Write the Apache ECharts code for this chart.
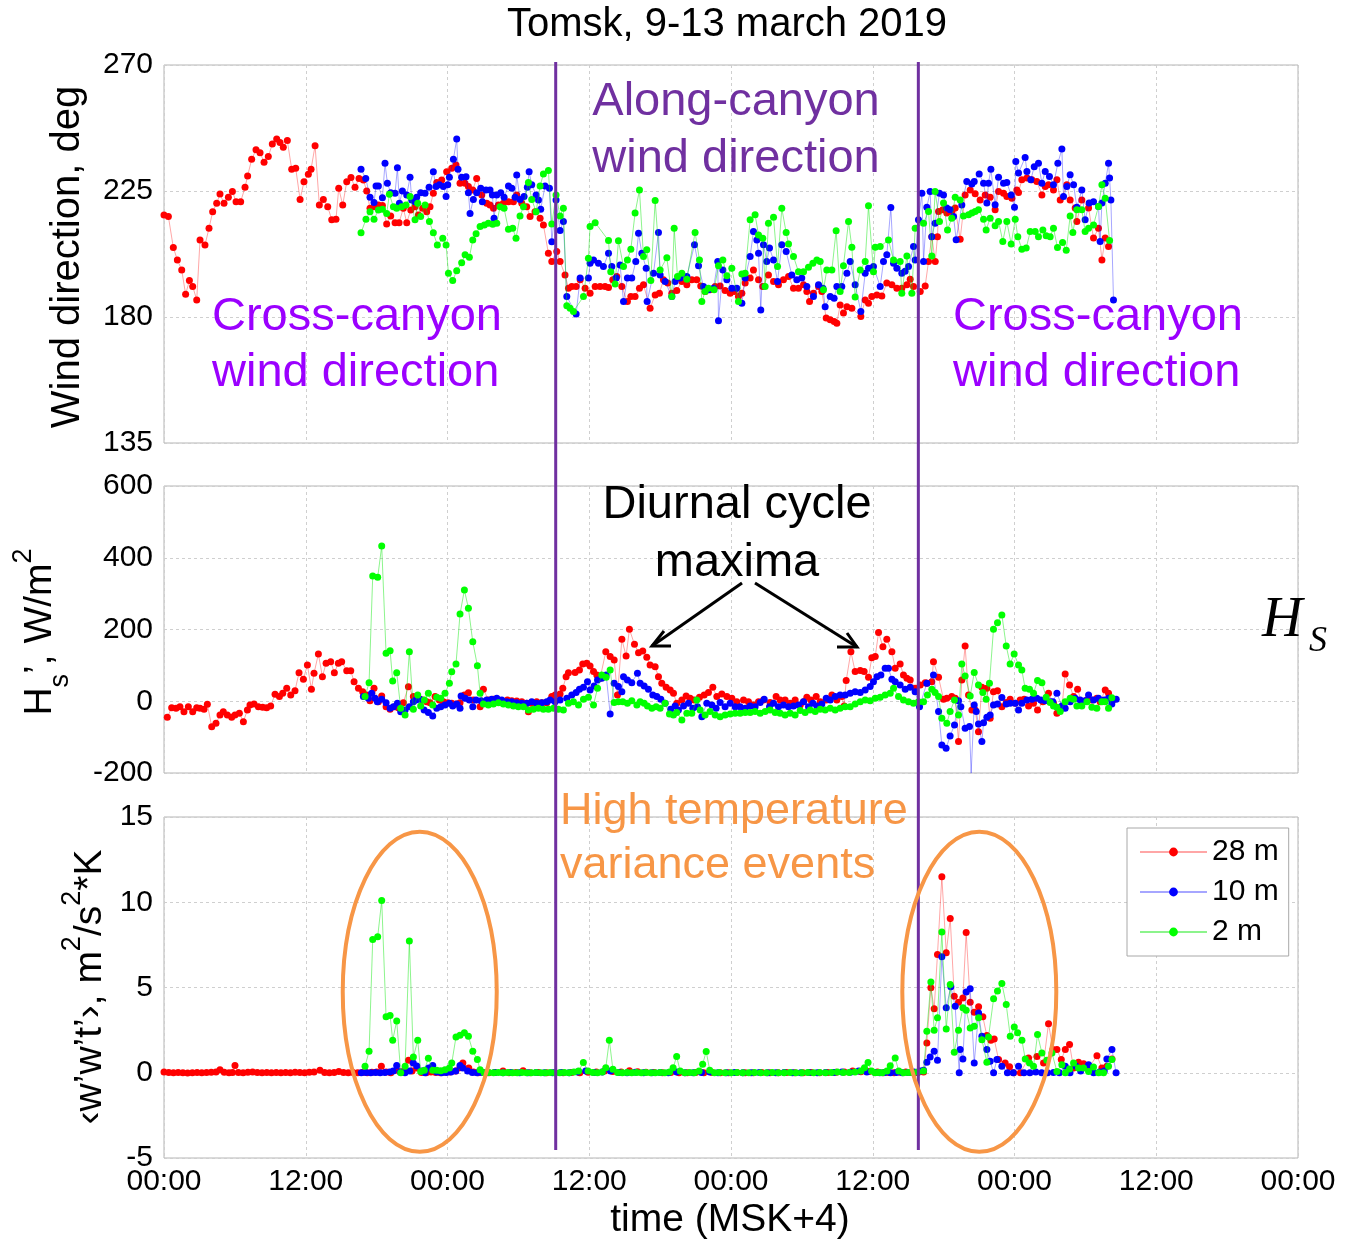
<!DOCTYPE html>
<html><head><meta charset="utf-8">
<script src="https://cdn.jsdelivr.net/npm/echarts@6/dist/echarts.min.js"></script>
<style>html,body{margin:0;padding:0;background:#fff}#c{width:1345px;height:1241px}</style>
</head><body><div id="c"></div>
<script>
const FONT = '"Liberation Sans", Arial, sans-serif';
const xTickLabels = ['00:00', '12:00'];
const seriesNames = ['28 m', '10 m', '2 m'];
const vLines = [33.16, 63.86];
const events = [[21.65, 4.75], [69.02, 4.75]];

// ---- Wind direction (deg) ----
const dir28 = [[0,216.4],[0.37,215.9],[0.79,204.8],[1.13,200.4],[1.5,196.8],[1.83,188.1],[2.15,193],[2.43,190.9],[2.77,186.1],[3.05,207.5],[3.47,205.7],[3.81,211.7],[4.12,217.6],[4.46,220.6],[4.74,223.9],[5.08,220.6],[5.45,222.8],[5.79,224.8],[6.1,221.2],[6.49,221.2],[6.86,226.3],[7.08,230.4],[7.42,236.3],[7.79,239.7],[8.13,238.7],[8.47,235.3],[8.83,237.3],[9.17,241.8],[9.54,243.6],[9.82,242.3],[10.1,240.6],[10.44,243],[10.81,232.8],[11.15,233.1],[11.52,222],[11.85,228.3],[12.22,231],[12.45,232.8],[12.79,241.2],[13.15,220],[13.49,222],[13.86,219.4],[14.2,214.7],[14.56,214.9],[14.79,226],[15.13,220],[15.47,228.3],[15.83,229.8],[16.17,226.3],[16.51,229.5],[16.88,228.9],[17.16,225],[17.44,218.8],[17.78,219.4],[18.15,220],[18.49,219.8],[18.85,213.2],[19.19,216.1],[19.56,213.7],[19.9,213.7],[20.26,218.8],[20.55,213.7],[20.89,218.2],[21.25,219.4],[21.54,216.4],[21.9,218.8],[22.24,217.6],[22.52,219.4],[22.8,224.2],[23.09,228],[23.51,228.9],[23.93,231.9],[24.36,233.1],[24.72,234.3],[25.06,227.8],[25.48,227.8],[25.77,226.6],[26.14,225.4],[26.47,229.5],[26.9,223.6],[27.32,220.6],[27.6,220],[27.89,218.8],[28.31,220],[28.73,220.6],[29.16,221.2],[29.58,221.2],[29.86,223.6],[30.29,220.6],[30.71,219.4],[30.99,215.9],[31.41,217.6],[31.84,215.3],[32.12,212.9],[32.54,202.8],[32.83,199.8],[33.25,203.4],[33.53,199.8],[33.95,195],[34.24,190.3],[34.52,190.9],[34.89,190.9],[35.23,193.3],[35.65,190.3],[36.07,188.5],[36.5,190.9],[36.92,190.9],[37.34,190.9],[37.63,190.5],[37.99,193.3],[38.33,194.5],[38.76,190.9],[39.23,185.5],[39.52,187.3],[39.88,187.3],[40.25,190.3],[40.59,191.5],[41.15,183.1],[41.58,187.9],[41.94,188.5],[42.28,193.3],[42.65,192.1],[42.99,188.5],[43.41,189.5],[43.84,192.7],[44.26,191.5],[44.68,193.3],[45.1,193.3],[45.44,191.1],[45.81,189.1],[46.23,189.7],[46.66,190.9],[47.08,191.1],[47.5,189.5],[47.93,188.5],[48.27,189.1],[48.63,187.3],[48.92,188.5],[49.2,192.1],[49.62,193.9],[49.9,196.8],[50.33,193.3],[50.69,190.9],[51.17,195],[51.6,192.7],[52.02,191.5],[52.44,193.3],[52.87,194.5],[53.29,190.3],[53.71,190.3],[54.14,191.5],[54.42,189.1],[54.65,185.5],[54.98,188.5],[55.41,190.9],[55.69,189.1],[56.06,179.6],[56.4,179],[56.73,178.4],[56.96,177.8],[57.24,184.3],[57.52,181.4],[57.81,183.7],[58.23,183.1],[58.99,180.2],[59.36,186.1],[59.64,184.9],[59.92,187.3],[60.35,187.9],[60.77,187.5],[61.19,192.1],[61.62,191.5],[62.04,190.3],[62.46,190.3],[62.89,191.5],[63.17,193.5],[63.45,190.9],[64.02,189.1],[64.44,191.1],[64.72,199.8],[65,208.7],[65.29,199.8],[65.48,208.7],[65.57,217.7],[65.93,218.3],[66.27,217.1],[66.69,217.7],[66.98,218.9],[67.4,207.8],[67.82,223.6],[68.25,225.4],[68.67,224],[69.09,221.8],[69.52,223.6],[69.94,222.8],[70.36,218.3],[70.65,224.8],[71.07,224.2],[71.35,223],[71.78,222.4],[72.2,225.4],[72.34,224.5],[72.62,229],[73.05,229.6],[73.47,229],[73.89,228.4],[74.32,223.6],[74.6,226.6],[74.88,227.2],[75.3,225.4],[75.59,229],[75.87,221.8],[76.43,227.2],[76.71,221.8],[77.14,218.9],[77.28,214.1],[77.7,221.8],[78.27,218.9],[78.69,208.2],[79.11,211.7],[79.4,200.4],[79.68,208.2],[79.96,205.2]];
const dir10 = [[16.68,232.8],[17.08,229.5],[17.44,222.8],[17.78,220.9],[17.95,226.8],[18.15,226.8],[18.49,222.6],[18.71,234.9],[18.91,227.8],[19.19,224.4],[19.56,224.2],[19.76,233.3],[19.93,220.6],[20.18,225],[20.55,223.6],[20.83,229.9],[20.97,221.8],[21.25,221.2],[21.39,222.8],[21.73,224.4],[22.1,224.2],[22.44,226.3],[22.8,231.9],[23.03,226.6],[23.31,227.2],[23.65,226.6],[23.88,223],[24.02,227.2],[24.16,229.9],[24.5,236.3],[24.78,243.6],[24.89,232.8],[25.2,229.9],[25.57,230.1],[25.77,224.4],[25.91,217],[26.19,222],[26.47,224.4],[26.81,226],[26.95,221.2],[27.26,225.4],[27.6,225.4],[27.8,223.6],[27.94,215.3],[28.17,223.6],[28.51,224.4],[28.79,222.8],[29.16,226.8],[29.44,226],[29.72,222.8],[29.86,230.7],[30.14,222],[30.48,223],[30.76,226.3],[30.91,231.9],[31.13,227.2],[31.5,223.6],[31.7,221.8],[31.89,218.5],[32.26,226.8],[32.63,226],[32.83,206.9],[33.19,221.8],[33.53,210.9],[33.81,214.1],[34.1,187.3],[34.89,181.1],[35.23,193.9],[35.93,193.9],[36.07,199.2],[36.36,200.4],[36.78,199.2],[37.2,198],[37.63,202.8],[37.91,198],[38.28,193.9],[38.61,198.6],[38.9,185.5],[39.23,193.9],[39.6,193.9],[39.94,199.8],[40.17,209.9],[40.45,202.8],[40.82,197.4],[40.9,185.5],[41.44,195.6],[41.86,210.2],[42,195],[42.42,192.7],[42.99,187.3],[43.27,192.7],[43.69,193.9],[44.26,194.5],[44.91,205.8],[45.25,198.3],[45.67,190.9],[46.09,189.7],[46.52,190.3],[46.88,199.8],[46.94,178.7],[47.31,196.8],[47.65,193.3],[48.07,190.3],[48.49,190.3],[48.92,184.9],[49.2,193.9],[49.62,201.6],[49.9,210.5],[50.19,207.5],[50.33,202.8],[50.52,182.5],[50.75,205.8],[51.03,199.8],[51.26,204.6],[51.6,200.4],[51.94,192.7],[52.3,205.8],[52.67,203.4],[53.15,195],[53.57,193.3],[53.99,193.9],[54.42,190.9],[54.98,187.3],[55.41,191.5],[55.78,190.3],[55.97,183.7],[56.4,187.3],[56.73,186.7],[56.96,190.9],[57.38,190.9],[57.81,195.6],[58.09,199.8],[58.51,191.5],[58.99,182],[59.36,195.6],[59.64,197.4],[60.06,198],[60.63,190.9],[60.91,199.8],[61.19,202.2],[61.53,219.1],[61.76,199.2],[62.04,197.4],[62.46,195.6],[62.74,196.3],[63.03,198],[63.45,205.2],[63.59,200.4],[63.87,214.7],[64.16,224.2],[64.3,199.8],[64.58,219.2],[64.86,224.8],[65,208.7],[65.28,213.5],[65.65,224.2],[65.99,223.6],[66.27,218.9],[66.55,218.3],[66.84,215.9],[67.06,207.6],[67.54,220],[67.96,228.4],[68.39,227.5],[68.59,228.4],[69.01,231.1],[69.38,227.8],[69.66,220.7],[69.8,227.8],[70,232.8],[70.36,220.1],[70.65,229.9],[71.07,227.8],[71.35,228],[71.72,223.6],[72,219.2],[72.11,235.5],[72.34,231.4],[72.9,237],[73.05,232],[73.38,229],[73.67,233.7],[74.03,234.9],[74.32,227.8],[74.6,232],[74.96,230.2],[75.3,227.2],[75.67,234.9],[76.01,240],[76.15,223],[76.43,226.6],[76.71,230.8],[77,227.2],[77.28,219.2],[77.7,225.4],[77.98,214.7],[78.32,220.7],[78.69,221.2],[79.11,219.5],[79.25,207],[79.4,220.7],[79.68,227.8],[79.96,234.9],[80.05,229.6],[80.16,221.8],[80.38,186.1]];
const dir2 = [[16.68,210.1],[17.1,214.9],[17.44,217.6],[17.78,214.9],[18.15,218.2],[18.49,218.5],[18.85,217],[19.08,223.8],[19.42,219.4],[19.7,218.8],[20.12,219.4],[20.49,220],[20.83,223],[21.25,214.7],[21.48,220.6],[21.73,215.9],[22.1,220],[22.47,214.1],[22.8,210.1],[23.14,205.7],[23.6,208.1],[23.88,205.7],[24.08,195.6],[24.44,193],[24.78,196.5],[25.2,199.4],[25.49,202.2],[25.85,201.3],[26.14,207.5],[26.42,209.7],[26.76,212.3],[27.12,212.9],[27.46,213.5],[27.83,213.1],[28.17,213.5],[28.45,219.4],[28.79,218.8],[29.16,211.3],[29.52,211.7],[29.8,208.1],[30.14,216.1],[30.43,219.4],[30.85,228],[31.13,222],[31.5,217.6],[31.84,226.8],[32.12,231.1],[32.54,232.3],[32.83,213.2],[33.19,223.6],[33.53,216.1],[33.81,218.8],[34.1,184],[34.38,183.1],[34.66,182],[35.51,187.3],[35.93,201],[36.07,212.3],[36.5,213.7],[37.63,207.3],[37.82,196.2],[38.19,191.8],[38.47,207.2],[38.9,198],[39.23,200.4],[39.52,204.2],[39.88,217.1],[40.25,225.4],[40.59,201.6],[40.87,204],[41.21,193],[41.58,221.6],[42,196.8],[42.57,201.2],[42.99,187.3],[43.19,211.7],[43.47,194.5],[43.84,195.6],[44.26,193.5],[44.96,210.2],[45.33,200.4],[45.53,185.5],[45.81,189.1],[46.09,190.3],[46.57,189.7],[46.94,198.3],[47.31,200.4],[47.65,194.7],[48.07,197.4],[48.63,185.5],[48.92,195.4],[49.2,195.6],[49.62,214.7],[50.04,216.5],[50.33,209.3],[50.69,208.1],[50.89,190.9],[51.17,213.5],[51.6,215.6],[51.94,198],[52.3,218.8],[52.67,210.2],[52.87,206.1],[53.29,201.6],[53.71,196.2],[54.14,196.2],[54.56,197.8],[54.93,199.2],[55.27,200.4],[55.55,199.8],[55.83,189.7],[56.11,196.8],[56.54,196.8],[56.9,210.8],[57.24,189.1],[57.52,198.3],[57.95,214.1],[58.23,204.9],[58.51,187.1],[58.94,196.8],[59.36,199.8],[59.64,219.7],[60.06,196.2],[60.21,204.9],[60.63,205.2],[61.33,207.5],[61.76,200.4],[62.32,199.8],[62.46,188.5],[62.89,201.8],[63.31,188.5],[63.59,211.7],[64.3,213.5],[64.72,217.7],[65,201.8],[65.28,224.8],[65.65,214.1],[65.99,220.7],[66.33,211.1],[66.69,215.3],[66.98,222.8],[67.4,221.8],[67.68,216.1],[68.11,216.5],[68.39,217.1],[68.67,217.7],[68.95,218.3],[69.38,214.9],[69.6,211.1],[69.94,215.3],[70.36,212.6],[70.65,214.1],[71.01,207],[71.35,214.1],[71.72,206.1],[72.06,214.9],[72.28,208.7],[72.62,204.2],[72.99,204.6],[73.33,210.5],[73.75,210.5],[74.03,208.7],[74.4,211.1],[74.68,209],[75.02,208.7],[75.3,211.7],[75.64,204.8],[76.07,206.6],[76.38,203.8],[76.71,216.1],[76.94,210.2],[77.28,218.3],[77.7,218.3],[77.98,210.5],[78.27,211.7],[78.69,212.9],[79.11,219.5],[79.4,227.2],[79.68,222.4],[80.05,207.3]];

// ---- Sensible heat flux Hs (W/m2) ----
const hs28 = [[0.28,-44.7],[0.65,-17.8],[1.02,-19.7],[1.35,-15],[1.69,-29],[2.06,-15],[2.43,-29],[2.77,-17.8],[3.05,-19.7],[3.39,-22.5],[3.67,-8.5],[4.04,-70.8],[4.4,-61.5],[4.74,-38.3],[5.02,-29],[5.36,-38.3],[5.73,-44.7],[6.01,-38.3],[6.38,-33.6],[6.72,-56.8],[7.06,-24.3],[7.28,-10.4],[7.62,-7.6],[7.99,-15],[8.35,-16.9],[8.69,-17.8],[9.03,-13.2],[9.4,19.4],[9.77,12.9],[10.05,22.1],[10.39,36.1],[10.73,17.5],[11.09,29.6],[11.43,79.7],[11.8,61.2],[12.14,101.1],[12.48,33.3],[12.7,77.9],[13.07,131.8],[13.41,68.6],[13.72,105.7],[14.11,110.4],[14.42,79.7],[14.76,105.7],[15.04,110.4],[15.47,85.3],[15.81,85.3],[16.09,54.7],[16.46,36.1],[16.82,26.8],[17.16,17.5],[17.44,1.7],[17.78,36.1],[18.15,-1.1],[18.43,14.7],[18.8,-15],[19.14,-22.5],[19.56,-15],[19.84,-17.8],[20.26,-3.9],[20.69,40.7],[21.11,12.9],[21.54,8.2],[21.9,3.6],[22.24,-1.1],[22.52,-3.9],[22.95,12.9],[23.31,3.6],[23.65,-1.1],[24.02,-3.9],[24.36,-5.7],[24.72,-7.6],[25.06,-3.9],[25.43,17.5],[25.77,24],[26.19,3.6],[26.76,-15],[27.04,33.3],[27.46,3.6],[27.89,5.4],[28.31,3.6],[28.73,-1.1],[29.07,3.6],[29.44,1.7],[29.86,0.8],[30.29,-1.1],[30.71,-5.7],[30.85,-29],[31.13,-5.7],[31.55,-1.1],[32,-3.9],[32.4,-3.9],[32.83,12.9],[33.11,17.5],[33.53,20.3],[33.76,36.1],[34.04,68.6],[34.24,79.7],[34.8,79.8],[35.17,87.2],[35.45,103.9],[35.79,105.8],[36.07,98.4],[36.36,82.6],[36.64,73.3],[36.92,64],[37.4,138.3],[37.77,124.4],[38.11,115.1],[38.39,17.5],[38.76,172.7],[39.12,126.2],[39.4,200.5],[39.83,158.7],[40.17,135.5],[40.53,140.2],[40.87,122.5],[41.15,101.1],[41.58,96.5],[41.86,68.6],[42.14,50.1],[42.51,38.9],[42.85,31.5],[43.13,22.2],[43.41,-5.7],[43.84,3.6],[44.2,14.8],[44.54,8.3],[44.88,3.6],[45.33,11.1],[45.73,17.5],[46.09,24.1],[46.46,38.9],[46.8,12.9],[47.22,20.3],[47.65,12.9],[48.07,8.3],[48.49,-1.1],[49.06,3.6],[49.48,-1.1],[49.9,-10.3],[50.33,-1.1],[50.75,3.6],[51.31,-3.8],[51.82,12.9],[52.16,3.6],[52.58,3.6],[53.01,-5.7],[53.43,3.6],[53.86,-10.3],[54.14,-1.1],[54.42,11.1],[54.76,3.6],[55.21,12.9],[55.55,-1.1],[56.06,3.6],[56.54,17.5],[56.96,3.6],[57.38,12.9],[57.58,-13.1],[57.75,57.5],[58.15,138.3],[58.51,82.6],[58.94,85.4],[59.27,82.6],[59.64,66.8],[59.92,121.6],[60.21,124.4],[60.49,191.3],[60.86,152.2],[61.19,172.7],[61.62,138.3],[61.9,91.9],[62.32,103.9],[62.6,73.3],[62.89,64],[63.17,59.4],[63.59,36.1],[64.02,45.4],[64.44,51.9],[64.58,50.1],[65,54.7],[65.14,110.4],[65.57,66.8],[65.99,5.5],[66.27,8.2],[66.69,12.9],[66.98,8.2],[67.26,-112.5],[67.54,59.3],[67.82,154.1],[68.11,17.5],[68.39,-24.3],[68.67,-24.3],[68.95,-84.7],[69.24,38.9],[69.66,36.1],[69.94,-47.5],[70.22,26.8],[70.56,29.6],[70.93,-15],[71.3,-3.8],[71.63,5.5],[72.06,-5.7],[72.48,3.6],[72.82,5.5],[73.19,-13.1],[73.61,-5.7],[73.95,-24.3],[74.4,-1.1],[74.88,22.2],[75.3,-5.7],[75.59,-33.6],[76.01,-19.6],[76.29,76.1],[76.66,45.4],[77,12.9],[77.34,33.3],[77.7,-5.7],[78.13,3.6],[78.55,3.6],[78.97,8.2],[79.25,-1.1],[79.68,31.5],[79.96,22.2],[80.33,3.6]];
const hs10 = [[16.88,12.9],[17.3,8.2],[17.58,22.1],[17.87,8.2],[18.06,-1.1],[18.43,5.4],[18.8,-3.9],[19.14,-19.7],[19.42,-15],[19.76,-5.7],[20.04,-29],[20.41,-24.3],[20.77,-15],[21.11,-1.1],[21.34,3.6],[21.68,5.4],[22.02,-24.3],[22.38,-31.7],[22.75,-41],[23.09,-19.7],[23.43,-15],[23.79,-10.4],[24.16,-5.7],[24.44,-13.2],[24.78,-7.6],[25.06,-19.7],[25.15,14.7],[25.49,8.2],[25.85,3.6],[26.14,-15],[26.42,3.6],[26.84,1.7],[27.32,3.6],[27.74,5.4],[28.17,8.2],[28.59,3.6],[29.02,-1.1],[29.44,-1.1],[29.86,-3.9],[30.29,-5.7],[30.71,-5.7],[31.13,-1.1],[31.55,-5.7],[31.98,-3.9],[32.4,-1.1],[32.68,3.6],[33.11,-1.1],[33.53,3.6],[34.1,8.2],[34.52,17.5],[34.89,24.1],[35.17,33.3],[35.51,38.9],[35.85,54.7],[36.07,31.5],[36.41,42.6],[36.7,59.3],[37.06,64],[37.43,73.3],[37.77,-35.4],[38.11,50.1],[38.47,40.8],[38.76,26.8],[38.9,68.6],[39.23,59.3],[39.6,51.9],[40.08,77.9],[40.31,50.1],[40.65,42.6],[41.01,33.3],[41.38,17.5],[41.72,12.9],[42.06,5.5],[42.42,-5.7],[42.9,-22.4],[43.27,-13.1],[43.55,-24.3],[43.98,-13.1],[44.4,-5.7],[44.77,-19.6],[45.16,-15],[45.53,-42.9],[45.95,-5.7],[46.38,-10.3],[46.74,-19.6],[47.08,-3.8],[47.5,-15],[47.93,-5.7],[48.35,-15],[48.77,-15],[49.2,-19.6],[49.62,-13.1],[50.04,-15],[50.47,-3.8],[50.81,5.5],[51.26,-15],[51.6,-5.7],[52.02,-15],[52.44,-10.3],[52.87,-15],[53.29,-13.1],[53.71,-10.3],[54.14,-1.1],[54.56,-15],[54.93,-5.7],[55.27,-13.1],[55.69,-7.5],[56.06,8.2],[56.4,3.6],[56.82,12.9],[57.24,17.5],[57.67,17.5],[58.09,22.2],[58.51,26.8],[58.94,24.1],[59.36,31.5],[59.78,40.8],[60.06,54.7],[60.35,68.6],[60.69,73.3],[61.05,91.9],[61.33,91.9],[61.62,61.2],[61.9,54.7],[62.32,45.4],[62.75,33.3],[63.17,38.9],[63.59,26.8],[63.96,-15],[64.58,50.1],[65.14,73.3],[65.57,-28.9],[65.85,-121.8],[66.21,-131.1],[66.55,-96.7],[66.92,-66.1],[67.26,1.7],[67.46,-15],[67.82,-75.4],[68.19,-70.7],[68.33,-200.8],[68.59,-10.3],[68.76,-28.9],[68.95,-63.3],[69.24,-112.5],[69.38,-59.6],[69.66,-44.7],[69.94,-38.2],[70.22,-10.3],[70.56,-7.5],[70.93,10.8],[71.3,-7.5],[71.63,-5.7],[72.06,-5.7],[72.34,-24.3],[72.62,-5.7],[73.05,3.6],[73.47,5.5],[73.89,8.2],[74.23,3.6],[74.6,1.7],[75.02,-1.1],[75.25,-1.1],[75.59,22.2],[76.01,-13.1],[76.29,-19.6],[76.71,-1.1],[77.14,8.2],[77.56,3.6],[77.98,1.7],[78.27,17.5],[78.69,3.6],[79.11,8.2],[79.59,3.6],[79.96,8.2],[80.24,-7.5],[80.61,5.5]];
const hs2 = [[17.02,12.9],[17.36,51.9],[17.67,349.2],[18.09,345.4],[18.43,432.8],[18.8,133.6],[19.14,141.1],[19.36,56.5],[19.7,79.7],[20.04,-19.7],[20.41,-38.3],[20.77,138.3],[21.11,-22.5],[21.48,17.5],[21.73,-13.2],[22.04,3.6],[22.38,22.1],[22.75,-10.4],[23.09,11],[23.43,8.2],[23.79,22.1],[24.16,50],[24.36,82.5],[24.72,103.9],[25.06,243.2],[25.43,310.1],[25.77,259],[26.14,166.1],[26.53,99.2],[26.76,22.1],[27.04,-7.6],[27.46,-10.4],[27.89,-7.6],[28.31,-3.9],[28.73,-7.6],[29.16,-10.4],[29.58,-13.2],[30,-15],[30.43,-15],[30.85,-24.3],[31.27,-22.5],[31.7,-19.7],[32.12,-22.5],[32.54,-22.5],[32.97,-19.7],[33.39,-22.5],[33.81,-24.3],[34.24,-5.7],[34.66,-1.1],[35.09,-10.3],[35.51,5.5],[35.93,11.1],[36.36,-10.3],[36.7,36.1],[37.06,73.3],[37.43,66.8],[37.77,87.2],[38.11,-3.8],[38.47,-1.1],[38.84,-1.1],[39.23,-5.7],[39.6,1.7],[40.03,-10.3],[40.31,-1.1],[40.65,-5.7],[40.93,-13.1],[41.3,-19.6],[41.66,-15],[42,-19.6],[42.42,-5.7],[42.79,-35.4],[43.13,-38.2],[43.41,-31.7],[43.84,-52.1],[44.26,-33.6],[44.68,-33.6],[45.1,3.6],[45.39,-24.3],[45.81,-38.2],[46.23,-28.9],[46.66,-38.2],[47.08,-42.9],[47.5,-38.2],[47.93,-35.4],[48.35,-33.6],[48.77,-33.6],[49.2,-31.7],[49.62,-31.7],[50.04,-28.9],[50.47,-33.6],[50.89,-28.9],[51.31,-24.3],[51.74,-31.7],[52.16,-33.6],[52.58,-38.2],[53.01,-33.6],[53.43,-38.2],[53.86,-26.1],[54.28,-31.7],[54.7,-24.3],[55.13,-28.9],[55.55,-22.4],[55.97,-24.3],[56.4,-19.6],[56.82,-24.3],[57.24,-19.6],[57.67,-15],[58.09,-15],[58.51,-7.5],[58.94,-1.1],[59.36,3.6],[59.78,1.7],[60.21,8.2],[60.63,11.1],[61.05,17.5],[61.48,22.2],[61.76,36.1],[62.18,12.9],[62.6,3.6],[63.03,-1.1],[63.45,-5.7],[63.87,-1.1],[64.3,-1.5],[64.63,17.5],[65,33.3],[65.28,24.1],[65.57,12.9],[65.85,-47.5],[66.27,-61.4],[66.55,-28.9],[66.92,3.6],[67.26,-38.2],[67.54,103.9],[67.82,70.5],[68.25,14.8],[68.59,79.8],[68.95,45.4],[69.32,24.1],[69.6,5.5],[69.88,50.1],[70.22,200.5],[70.56,219.1],[70.93,240.5],[71.3,154.1],[71.63,103.9],[71.97,131.8],[72.34,101.1],[72.62,87.2],[72.9,36.1],[73.27,33.3],[73.61,22.2],[73.95,57.5],[74.32,51.9],[74.68,11.1],[75.02,-3.8],[75.3,-13.1],[75.59,-16.8],[75.87,-28.9],[76.29,-1.1],[76.71,8.2],[77,5.5],[77.28,-13.1],[77.7,-13.1],[78.13,-1.1],[78.55,-16.8],[78.97,-19.6],[79.4,-1.1],[79.68,-1.1],[79.96,-19.6],[80.24,9.6]];

// ---- <w'w't'> ----
const wt28 = [[0,0.05],[0.4,0.02],[0.8,0],[1.2,0.01],[1.6,0],[2,-0.02],[2.4,0],[2.8,0.01],[3.2,0],[3.6,0.02],[4,0.03],[4.4,0.05],[4.74,0.18],[5.1,0.03],[5.5,0],[5.8,0.02],[6.01,0.43],[6.3,0.02],[6.7,0],[7.1,0.03],[7.5,0.04],[7.9,0.02],[8.3,0],[8.7,0.01],[9.1,0],[9.5,0.02],[9.9,0],[10.3,0.01],[10.7,0],[11.1,0.03],[11.5,0.02],[11.9,0],[12.3,0.03],[12.7,0.05],[13.2,0.14],[13.6,0.02],[14,0],[14.4,0.02],[14.8,0.08],[15.2,0.02],[15.6,0],[16,0.01],[16.4,0],[16.8,0.02],[17.2,0],[17.6,0.03],[18,0.05],[18.4,0.38],[18.8,0.05],[19.2,0],[19.7,0.14],[20.1,0.05],[20.4,0.2],[20.7,0.73],[21,0.1],[21.4,0.28],[21.8,0.02],[22.2,0],[22.6,0.05],[23,0.02],[23.4,0],[23.8,0.03],[24.2,0.05],[24.7,0.1],[25.06,0.3],[25.3,0.57],[25.8,0.28],[26.2,0.05],[26.6,0],[27,0.01],[27.5,0],[28,0.02],[28.7,0.1],[29.2,0],[29.8,0.02],[30.4,0.12],[31,0],[31.7,0.02],[32.4,0],[33.1,0.01],[33.8,0],[34.5,0.02],[35.2,0],[35.9,0.03],[36.6,0.05],[37.3,0.1],[38,0.08],[38.7,0.05],[39.4,0.12],[40.1,0.06],[40.8,0.03],[41.5,0.02],[42.2,0],[42.9,0.01],[43.6,0],[44.3,0],[45,0.01],[45.7,0],[46.4,0.02],[47.1,0],[47.8,0],[48.5,0.01],[49.2,0],[49.9,0],[50.6,0.01],[51.3,0],[52,0],[52.7,0.01],[53.4,0],[54.1,0],[54.8,0.02],[55.5,0],[56.2,0.01],[56.9,0.03],[57.6,0.05],[58.3,0.1],[59,0.06],[59.7,0.08],[60.4,0.05],[60.9,0],[61.3,0.02],[61.8,0],[62.3,0.03],[62.8,0.05],[63.3,0.02],[63.8,0],[64.3,0.05],[64.58,1.75],[64.92,4.98],[65.2,3.75],[65.48,6.94],[65.85,11.49],[66.22,7.04],[66.56,9.04],[66.9,4.49],[67.26,4.14],[67.63,4.39],[67.91,8.22],[68.25,4.14],[68.59,3.55],[68.96,3.87],[69.32,3.28],[69.66,2.18],[70,1.9],[70.28,1.98],[70.65,0.77],[71.21,0.57],[71.58,0.35],[71.92,0],[72.5,0],[73.19,0.87],[73.9,0.96],[74.46,0.57],[74.88,2.88],[75.25,1.36],[75.59,1.36],[75.96,0.77],[76.3,1.36],[76.66,1.65],[77,0.28],[77.42,0.61],[77.85,0.53],[78.27,0.28],[78.98,1.0],[79.4,0.28],[79.82,0.38],[80.25,0.81]];
const wt10 = [[16.7,0],[17.1,0.02],[17.5,0],[17.9,0.01],[18.3,0],[18.7,0.02],[19.1,0.05],[19.4,0.1],[19.7,0.43],[20,0.05],[20.4,0],[20.8,0.1],[21.1,0.57],[21.4,0.4],[21.8,0.1],[22.1,0],[22.4,0.28],[22.75,0.43],[23.1,0.05],[23.5,0],[23.9,0.02],[24.3,0.05],[24.7,0.1],[25.06,0.43],[25.3,0.28],[25.7,0.1],[26.1,0.02],[26.5,0],[26.9,0.02],[27.3,0],[28,0.01],[28.7,0],[29.4,0.02],[30.1,0],[30.8,0],[31.5,0.01],[32.2,0],[32.9,0],[33.6,0.02],[34.3,0],[35,0.05],[35.7,0.1],[36.4,0.02],[37.1,0.05],[37.8,0.1],[38.5,0.02],[39.2,0],[39.9,0.03],[40.6,0],[41.3,0],[42,0.01],[42.7,0],[43.4,0.05],[44.1,0],[44.8,0],[45.5,0.02],[46.2,0.05],[46.9,0],[47.6,0],[48.3,0.01],[49,0],[49.7,0],[50.4,0.01],[51.1,0],[51.8,0],[52.5,0.01],[53.2,0],[53.9,0],[54.6,0.02],[55.3,0],[56,0.01],[56.7,0.02],[57.4,0.05],[58.1,0.03],[58.8,0.1],[59.5,0.05],[60.2,0.02],[60.6,0],[61,0.02],[61.5,0],[62,0.02],[62.5,0],[63,0.01],[63.5,0.05],[64,0.1],[64.3,0.14],[64.58,0.61],[64.86,0.92],[65.2,1.26],[65.48,0.73],[65.85,6.8],[66.22,3.81],[66.61,5.04],[66.98,3.9],[67.32,0],[67.4,1.36],[67.63,0.81],[67.91,4.73],[68.25,4.92],[68.59,0.57],[68.96,3.51],[69.24,2.14],[69.66,1.36],[69.94,0.67],[70.23,0],[70.51,0.77],[70.93,0.38],[71.4,0],[71.9,0],[72.34,0.38],[72.8,0],[73.3,0],[73.8,0.05],[74.3,0],[74.8,0],[75.3,0.02],[75.8,0],[76.3,0.38],[76.7,0],[77.2,0.4],[77.6,0.1],[78.27,0.47],[78.7,0],[79.2,0.05],[79.6,0.1],[79.82,0.81],[80.25,1.36],[80.6,0]];
const wt2 = [[17.02,0.38],[17.36,1.26],[17.67,7.82],[18.09,7.98],[18.43,10.1],[18.8,3.28],[19.14,3.36],[19.36,1.9],[19.7,3.04],[20.04,0],[20.41,0.38],[20.77,7.73],[21.11,0.92],[21.48,1.9],[21.73,0.08],[22.04,0.14],[22.38,0.85],[22.75,0.14],[23.09,0.14],[23.43,0.12],[23.79,0.18],[24.16,0.28],[24.36,0.57],[24.72,2.1],[25.06,2.2],[25.43,2.34],[25.77,2.14],[26.14,1.26],[26.53,0.77],[26.76,0.18],[27.1,0],[27.5,0.02],[27.9,0],[28.3,0.01],[28.7,0],[29.1,0.02],[29.5,0],[29.9,0],[30.3,0.01],[30.7,0],[31.1,0],[31.5,0.02],[31.9,0],[32.3,0],[32.7,0.01],[33.1,0],[33.5,0],[33.9,0.02],[34.3,0],[34.7,0.05],[35.1,0.1],[35.5,0.6],[35.9,0.1],[36.3,0.02],[36.7,0],[37.1,0.05],[37.4,0.3],[37.7,1.9],[38,0.2],[38.4,0.02],[38.8,0],[39.2,0.01],[39.6,0],[40,0.02],[40.4,0],[40.8,0.01],[41.2,0],[41.6,0],[42,0.01],[42.4,0],[42.8,0.05],[43.1,0.3],[43.4,0.95],[43.7,0.1],[44.1,0],[44.5,0.02],[44.9,0],[45.3,0.1],[45.6,0.5],[45.9,1.25],[46.2,0.15],[46.6,0],[47,0.01],[47.5,0],[48,0],[48.5,0.02],[49,0],[49.5,0],[50,0.01],[50.5,0],[51,0],[51.5,0.02],[52,0],[52.5,0],[53,0.01],[53.5,0],[54,0],[54.5,0.02],[55,0],[55.5,0.01],[56,0],[56.5,0.02],[57,0.05],[57.5,0.02],[58,0.01],[58.5,0.05],[59,0.1],[59.3,0.3],[59.6,0.6],[59.9,0.1],[60.2,0],[60.5,0.02],[60.8,0],[61.2,0.1],[61.48,0.41],[61.9,0.86],[62.2,0.1],[62.6,0],[63,0.02],[63.4,0],[63.8,0.05],[64.3,0.1],[64.58,2.43],[64.92,5.32],[65.2,2.49],[65.48,3.22],[65.85,8.26],[66.22,2.57],[66.56,5.18],[66.9,1.2],[67.26,2.49],[67.63,3.81],[67.91,3.67],[68.25,2.63],[68.59,2.73],[68.96,3.22],[69.24,1.94],[69.66,0.61],[69.8,2.1],[70.23,4.34],[70.56,4.79],[70.93,5.24],[71.3,4.0],[71.64,2.14],[71.98,2.69],[72.26,2.34],[72.63,1.9],[72.91,0.81],[73.27,0.57],[73.61,0.38],[73.95,2.24],[74.32,1.16],[74.74,0.73],[75.17,1.16],[75.59,0.08],[76.01,0.47],[76.3,0],[76.66,0.22],[77,0.57],[77.42,0.28],[77.85,0.28],[78.27,0.08],[78.69,0.34],[79.12,0],[79.54,0],[79.96,0.38],[80.25,0.77]];

const COLORS = ['#ff0000', '#0000ff', '#00ff00'];
const LIGHT = ['rgba(255,0,0,0.35)', 'rgba(0,0,255,0.35)', 'rgba(0,230,0,0.45)'];
const panels = [[dir28, dir10, dir2], [hs28, hs10, hs2], [wt28, wt10, wt2]];

const chart = echarts.init(document.getElementById('c'), null, {renderer: 'canvas'});

const gridsPx = [[65, 378], [486, 287], [817, 341]];
const yRanges = [[135, 270, 45], [-200, 600, 200], [-5, 15, 5]];

const grid = gridsPx.map(g => ({left: 164, top: g[0], width: 1134, height: g[1], show: true, borderColor: '#b5b5b5', borderWidth: 1, backgroundColor: 'transparent'}));
const xAxis = gridsPx.map((g, i) => ({
  type: 'value', gridIndex: i, min: 0, max: 96, interval: 12,
  axisLine: {show: false}, axisTick: {show: false},
  axisLabel: {show: i === 2, fontSize: 30, fontFamily: FONT, color: '#000', margin: 9,
    formatter: v => xTickLabels[(v / 12) % 2]},
  splitLine: {show: true, lineStyle: {color: '#cfcfcf', type: [3, 3], width: 1}}
}));
const yAxis = yRanges.map((r, i) => ({
  type: 'value', gridIndex: i, min: r[0], max: r[1], interval: r[2],
  axisLine: {show: false}, axisTick: {show: false},
  axisLabel: {fontSize: 30, fontFamily: FONT, color: '#000', margin: 11},
  splitLine: {show: true, lineStyle: {color: '#cfcfcf', type: [3, 3], width: 1}}
}));

const series = [];
panels.forEach((p, gi) => {
  p.forEach((data, si) => {
    series.push({
      name: seriesNames[si], type: 'line', xAxisIndex: gi, yAxisIndex: gi, data,
      symbol: 'circle', symbolSize: 7, showSymbol: true,
      itemStyle: {color: COLORS[si]}, lineStyle: {color: LIGHT[si], width: 1},
      emphasis: {disabled: true}, animation: false, z: 2 + si
    });
  });
});

chart.setOption({
  animation: false,
  grid, xAxis, yAxis, series,
  legend: {
    data: seriesNames, orient: 'vertical', left: 1127, top: 828,
    backgroundColor: '#fff', borderColor: '#a8a8a8', borderWidth: 1,
    padding: [9, 10, 9, 12], itemWidth: 67, itemHeight: 11, itemGap: 10,
    textStyle: {fontSize: 30, fontFamily: FONT, color: '#000'},
    selectedMode: false
  }
});

// ---- annotations ----
const mctx = document.createElement('canvas').getContext('2d');
function tw(t, size) { mctx.font = size + 'px "Liberation Sans", Arial, sans-serif'; return mctx.measureText(t).width; }
function txt(x, y, text, size, color, align, extra) {
  return {type: 'text', x, y, z: 100, silent: true,
    style: Object.assign({text, fill: color, fontSize: size, fontFamily: FONT,
      align, textAlign: align, verticalAlign: 'middle', textVerticalAlign: 'middle'}, extra || {})};
}
function rotLabel(cx, cy, pieces) {
  const W = pieces.reduce((s, p) => s + tw(p.t, p.size), 0);
  let x = -W / 2;
  const children = [];
  pieces.forEach(p => {
    children.push({type: 'text', x, y: p.dy, style: {text: p.t, fill: '#000', fontSize: p.size, fontFamily: FONT,
      align: 'left', textAlign: 'left', verticalAlign: 'middle', textVerticalAlign: 'middle'}});
    x += tw(p.t, p.size);
  });
  return {type: 'group', x: cx, y: cy, rotation: Math.PI / 2, z: 100, silent: true, children};
}

const px = h => chart.convertToPixel({xAxisIndex: 0}, h);
const pyB = v => chart.convertToPixel({yAxisIndex: 2}, v);

const graphic = [];
vLines.forEach(h => {
  const x = px(h);
  graphic.push({type: 'line', z: 90, silent: true, shape: {x1: x, y1: 62, x2: x, y2: 1150}, style: {stroke: '#7030A0', lineWidth: 3}});
});
events.forEach(e => {
  graphic.push({type: 'ellipse', z: 91, silent: true, shape: {cx: px(e[0]), cy: pyB(e[1]), rx: 77, ry: 160}, style: {fill: 'none', stroke: '#F79646', lineWidth: 4}});
});
graphic.push(txt(727, 25, 'Tomsk, 9-13 march 2019', 40, '#000', 'center'));
graphic.push(txt(736, 131, 'Along-canyon\nwind direction', 47, '#7030A0', 'center', {lineHeight: 57}));
graphic.push(txt(212, 345, 'Cross-canyon\nwind direction', 47, '#9B00FF', 'left', {lineHeight: 56}));
graphic.push(txt(953, 345, 'Cross-canyon\nwind direction', 47, '#9B00FF', 'left', {lineHeight: 56}));
graphic.push(txt(737, 534, 'Diurnal cycle\nmaxima', 47, '#000', 'center', {lineHeight: 58}));
graphic.push(txt(560, 839, 'High temperature\nvariance events', 45, '#F79646', 'left', {lineHeight: 54}));
graphic.push(txt(730, 1220, 'time (MSK+4)', 39, '#000', 'center'));
graphic.push({type: 'text', x: 1262, y: 621, z: 100, silent: true, style: {text: 'H', fill: '#000', fontSize: 56, fontStyle: 'italic', fontFamily: '"Liberation Serif", "Times New Roman", serif', align: 'left', textAlign: 'left', verticalAlign: 'middle', textVerticalAlign: 'middle'}});
graphic.push({type: 'text', x: 1309, y: 642, z: 100, silent: true, style: {text: 'S', fill: '#000', fontSize: 36, fontStyle: 'italic', fontFamily: '"Liberation Serif", "Times New Roman", serif', align: 'left', textAlign: 'left', verticalAlign: 'middle', textVerticalAlign: 'middle'}});
// arrows
const arrowStyle = {stroke: '#000', lineWidth: 3, fill: 'none'};
graphic.push({type: 'polyline', z: 100, silent: true, shape: {points: [[742, 583], [652, 646]]}, style: arrowStyle});
graphic.push({type: 'polyline', z: 100, silent: true, shape: {points: [[664, 631], [652, 646], [671, 646]]}, style: arrowStyle});
graphic.push({type: 'polyline', z: 100, silent: true, shape: {points: [[755, 583], [857, 647]]}, style: arrowStyle});
graphic.push({type: 'polyline', z: 100, silent: true, shape: {points: [[847, 633], [857, 647], [837, 647]]}, style: arrowStyle});
// y axis names
graphic.push(rotLabel(68, 257, [{t: 'Wind direction, deg', size: 40, dy: 0}]));
graphic.push(rotLabel(40, 632, [
  {t: 'H', size: 39, dy: 0}, {t: 's', size: 27, dy: 21}, {t: '\u2019, W/m', size: 39, dy: 0}, {t: '2', size: 27, dy: -16}
]));
graphic.push(rotLabel(90, 987, [
  {t: '\u2039w\u2019w\u2019t\u2019\u203A, m', size: 39, dy: 0}, {t: '2', size: 27, dy: -17},
  {t: '/s', size: 39, dy: 0}, {t: '2', size: 27, dy: -17}, {t: '*K', size: 39, dy: 0}
]));

chart.setOption({graphic});
</script>
</body></html>
